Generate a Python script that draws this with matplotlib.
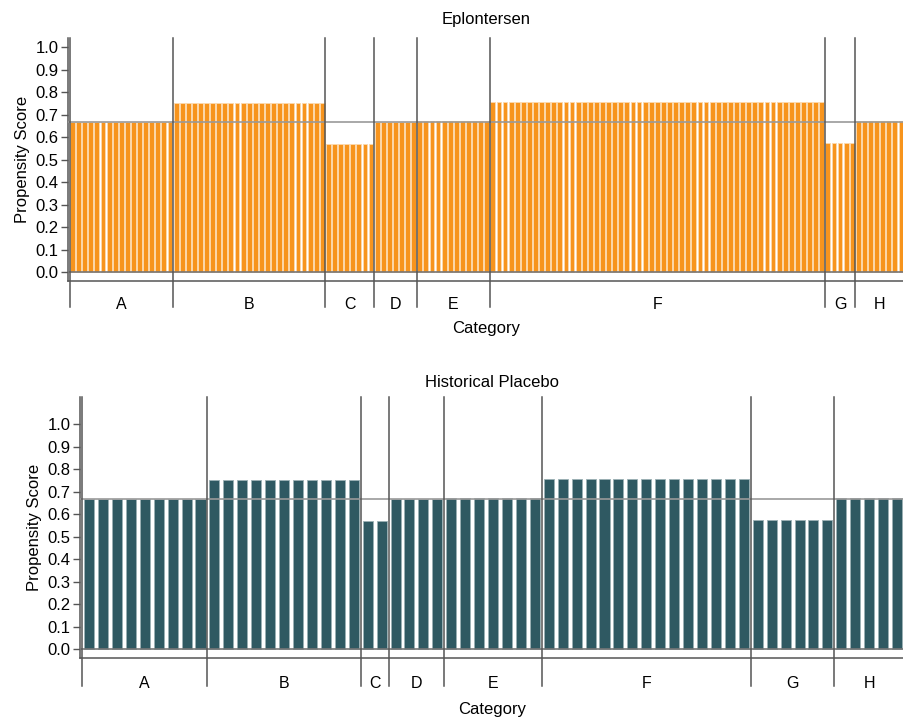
import numpy as np
import matplotlib.pyplot as plt
import matplotlib.transforms as mtransforms

plt.rcParams['font.family'] = ['Liberation Sans', 'DejaVu Sans']

categories = ["A", "B", "C", "D", "E", "F", "G", "H"]
scores = [0.668, 0.750, 0.568, 0.668, 0.672, 0.757, 0.576, 0.672]
ref_score = 0.669

# number of subjects (bars) per category in each arm
n_eplontersen = [17, 25, 8, 7, 12, 55, 5, 8]
n_placebo = [9, 11, 2, 4, 7, 15, 6, 5]


def panel(ax, counts, color, edge, width, title, pad_left, ytop, title_pad):
    vals = np.repeat(scores, counts)
    x = np.arange(len(vals))
    ax.bar(x, vals, width=width, color=color, edgecolor=edge, linewidth=0.6, zorder=2)
    ax.axhline(0, color="#777777", lw=1.2, zorder=3)
    ax.axhline(ref_score, color="#999999", lw=1.2, zorder=3)

    bounds = np.concatenate([[0], np.cumsum(counts)]) - 0.5
    trans = mtransforms.blended_transform_factory(ax.transData, ax.transAxes)
    for b in bounds[:-1]:
        ax.plot([b, b], [-0.107, 1], color="#555555", lw=1.1, transform=trans,
                clip_on=False, zorder=4)
    centers = (bounds[:-1] + bounds[1:]) / 2
    for c, lab in zip(centers, categories):
        ax.text(c, -0.097, lab, transform=trans, ha="center", va="center", fontsize=11.5)
    ax.text(0.5, -0.197, "Category", transform=ax.transAxes, ha="center", va="center",
            fontsize=12)

    ax.set_xlim(-0.5 - pad_left, len(vals) - 0.5)
    ax.set_ylim(-0.038, ytop)
    ax.set_xticks([])
    ax.set_yticks(np.arange(0, 1.01, 0.1))
    ax.set_yticklabels([f"{v:.1f}" for v in np.arange(0, 1.01, 0.1)], fontsize=12)
    ax.tick_params(axis="y", length=5, width=1, color="#555555", pad=2)
    ax.set_ylabel("Propensity Score", fontsize=12, labelpad=4)
    ax.set_title(title, fontsize=12, pad=title_pad)
    for s in ["top", "right"]:
        ax.spines[s].set_visible(False)
    for s in ["left", "bottom"]:
        ax.spines[s].set_color("#555555")
        ax.spines[s].set_linewidth(1.1)


fig = plt.figure(figsize=(9.04, 7.19), dpi=100)
ax1 = fig.add_axes([68 / 904, 438 / 719, 836 / 904, 243 / 719])
ax2 = fig.add_axes([80 / 904, 61 / 719, 824 / 904, 261 / 719])

panel(ax1, n_eplontersen, "#F7941D", "#FCD9AE", 0.8, "Eplontersen", 0.25, 1.04, 10)
panel(ax2, n_placebo, "#2F5962", "#9BB0B4", 0.72, "Historical Placebo", 0.15, 1.12, 7)

fig.savefig("out.png", dpi=100)
